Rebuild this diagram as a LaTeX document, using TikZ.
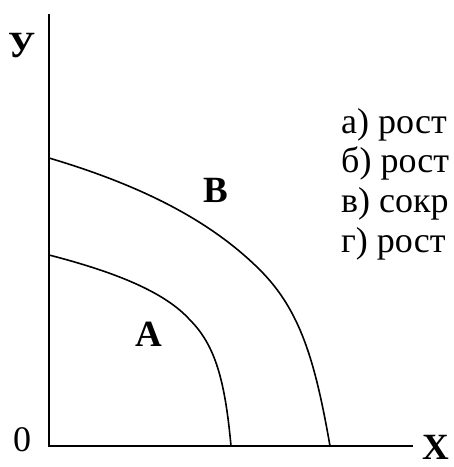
\documentclass[tikz,border=0pt]{standalone}
\usepackage{fontspec}
\setmainfont{Liberation Serif}
\usetikzlibrary{positioning}
\tikzset{
  axisline/.style={line width=1.8pt, draw=black},
  ppfcurve/.style={line width=1.6pt, draw=black},
  axislabel/.style={font=\fontsize{37}{40}\selectfont\bfseries, inner sep=0pt},
  curvelabel/.style={font=\fontsize{37}{40}\selectfont\bfseries, inner sep=0pt},
  legendline/.style={font=\fontsize{36}{40}\selectfont, anchor=base west, inner sep=0pt},
}

\begin{document}
\begin{tikzpicture}[x=1pt, y=-1pt]
  \useasboundingbox (0,0) rectangle (454,467);
  % axes
  \coordinate (yend) at (49,14);
  \coordinate (origin) at (49,446);
  \coordinate (xend) at (413,446);
  \draw[axisline] (yend) -- (origin) -- (xend);
  \node (ylab) [axislabel] at (22,46) {У};
  \node (xlab) [axislabel] at (436,447) {X};
  \node (zero) [font=\fontsize{36}{40}\selectfont, inner sep=0pt] at (22,440) {0};
  % curves
  \coordinate (b0) at (49,158);
  \coordinate (b1) at (330,446);
  \coordinate (a0) at (49,255);
  \coordinate (a1) at (231,446);
  \draw[ppfcurve] (b0) .. controls (140,185) and (210,220) .. (260,270)
    .. controls (300,310) and (315,360) .. (b1);
  \draw[ppfcurve] (a0) .. controls (115,272) and (165,292) .. (190,320)
    .. controls (215,345) and (225,380) .. (a1);
  \node (labB) [curvelabel] at (216,190) {В};
  \node (labA) [curvelabel] at (149,334) {А};
  % legend
  \node (la) [legendline] at (341,133) {а) рост};
  \node (lb) [legendline] at (341,172) {б) рост};
  \node (lc) [legendline] at (341,212) {в) сокр};
  \node (ld) [legendline] at (341,252) {г) рост};
\end{tikzpicture}
\end{document}
